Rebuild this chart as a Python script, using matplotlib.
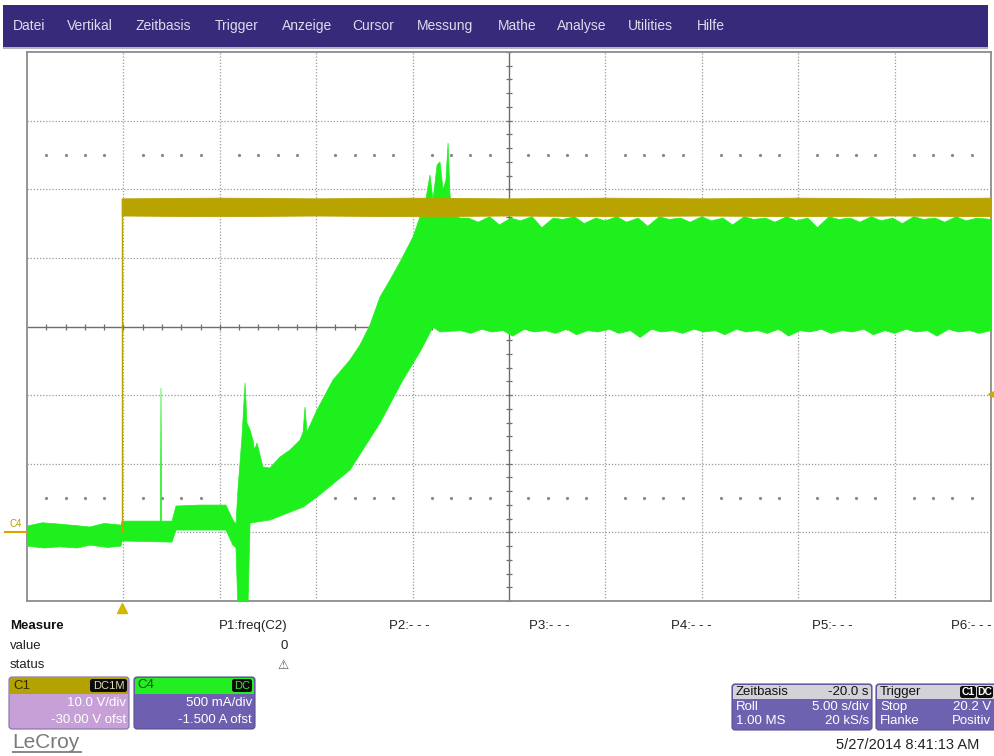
import matplotlib
matplotlib.use("Agg")
import matplotlib.pyplot as plt
from matplotlib.patches import Rectangle, FancyBboxPatch
from matplotlib.transforms import Affine2D, blended_transform_factory
import numpy as np

plt.rcParams['font.family'] = ['Liberation Sans', 'DejaVu Sans']

W, H = 994, 756

# ---------------- data ----------------
# C4 current envelope (A) vs time (s, 5 s/div, 10 div)
c4_hi_t = [0.00, 0.80, 1.71, 2.50, 3.27, 4.00, 4.88, 4.93, 6.79, 6.92, 6.95, 6.98,
           7.52, 7.73, 8.97, 10.32, 10.68, 10.84, 10.94, 11.15, 11.31, 11.41, 11.57,
           11.72, 11.80, 11.93, 12.24, 12.60, 13.12, 13.64, 14.16, 14.32, 14.42, 14.52,
           15.04, 15.87, 16.75, 17.27, 17.79, 18.31, 18.83, 19.35, 20.02, 20.38, 20.64,
           20.90, 21.06, 21.27, 21.42, 21.58, 21.73, 21.84, 21.94, 22.10, 22.46,
           22.9, 23.4, 24.0, 24.5, 25.1, 25.6, 26.2, 26.7, 27.3, 27.8, 28.4, 28.9,
           29.5, 30.0, 30.6, 31.1, 31.7, 32.2, 32.8, 33.3, 33.9, 34.4, 35.0, 35.5,
           36.1, 36.6, 37.2, 37.7, 38.3, 38.8, 39.4, 39.9, 40.5, 41.0, 41.6, 42.1,
           42.7, 43.2, 43.8, 44.3, 44.9, 45.4, 46.0, 46.5, 47.1, 47.6, 48.2, 48.7,
           49.3, 50.0]
c4_hi = [0.046, 0.070, 0.060, 0.050, 0.039, 0.065, 0.053, 0.082, 0.082, 0.082, 1.052, 0.082,
         0.082, 0.192, 0.199, 0.199, 0.090, 0.060, 0.308, 0.695, 1.089, 0.797, 0.746,
         0.673, 0.600, 0.651, 0.476, 0.469, 0.549, 0.600, 0.673, 0.730, 0.913, 0.731,
         0.891, 1.110, 1.256, 1.365, 1.511, 1.715, 1.839, 1.970, 2.152, 2.298, 2.386,
         2.604, 2.422, 2.677, 2.699, 2.495, 2.568, 2.837, 2.458, 2.313, 2.290,
         2.29, 2.26, 2.30, 2.24, 2.29, 2.27, 2.30, 2.22, 2.29, 2.28, 2.30, 2.25,
         2.29, 2.27, 2.30, 2.26, 2.29, 2.23, 2.30, 2.28, 2.29, 2.26, 2.30, 2.27,
         2.29, 2.24, 2.30, 2.28, 2.29, 2.26, 2.30, 2.27, 2.29, 2.22, 2.30, 2.28,
         2.29, 2.26, 2.30, 2.27, 2.29, 2.25, 2.30, 2.28, 2.29, 2.26, 2.30, 2.27,
         2.29, 2.28]
c4_lo_t = [0.00, 0.90, 1.71, 2.60, 3.27, 4.20, 4.88, 4.93, 7.52, 7.73, 10.32, 10.68,
           10.84, 10.94, 11.46, 11.57, 12.60, 14.32, 15.04, 16.75, 18.31, 19.50, 20.38,
           21.06, 21.42,
           22.5, 23.0, 23.6, 24.1, 24.7, 25.2, 25.8, 26.3, 26.9, 27.4, 28.0, 28.5,
           29.1, 29.6, 30.2, 30.7, 31.3, 31.8, 32.4, 32.9, 33.5, 34.0, 34.6, 35.1,
           35.7, 36.2, 36.8, 37.3, 37.9, 38.4, 39.0, 39.5, 40.1, 40.6, 41.2, 41.7,
           42.3, 42.8, 43.4, 43.9, 44.5, 45.0, 45.6, 46.1, 46.7, 47.2, 47.8, 48.3,
           48.9, 49.4, 50.0]
c4_lo = [-0.100, -0.114, -0.105, -0.114, -0.093, -0.110, -0.100, -0.063, -0.071, 0.017,
         0.017, -0.093, -0.114, -0.550, -0.550, 0.068, 0.090, 0.184, 0.257, 0.454, 0.797,
         1.110, 1.314, 1.496, 1.460,
         1.47, 1.45, 1.48, 1.46, 1.47, 1.43, 1.48, 1.46, 1.47, 1.45, 1.48, 1.44,
         1.47, 1.46, 1.48, 1.45, 1.47, 1.42, 1.48, 1.46, 1.47, 1.45, 1.48, 1.46,
         1.47, 1.44, 1.48, 1.46, 1.47, 1.45, 1.48, 1.43, 1.47, 1.46, 1.48, 1.45,
         1.47, 1.46, 1.48, 1.44, 1.47, 1.45, 1.48, 1.46, 1.47, 1.43, 1.48, 1.46,
         1.47, 1.45, 1.47]

# C1 voltage (V): 0 V until the trigger step, then a noisy band
c1_pre_t = [0.00, 4.93]
c1_pre_v = [0.0, 0.0]
c1_band_t = [4.93, 10.0, 15.0, 20.0, 25.0, 30.0, 35.0, 40.0, 45.0, 50.0]
c1_band_hi = [48.6, 48.7, 48.6, 48.7, 48.6, 48.7, 48.6, 48.7, 48.6, 48.7]
c1_band_lo = [46.1, 46.0, 46.1, 46.0, 46.1, 46.0, 46.1, 46.0, 46.1, 46.0]
trigger_t = 4.93
trigger_level_v = 20.2

menu_items = ["Datei", "Vertikal", "Zeitbasis", "Trigger", "Anzeige", "Cursor",
              "Messung", "Mathe", "Analyse", "Utilities", "Hilfe"]
p_labels = ["P1:freq(C2)", "P2:- - -", "P3:- - -", "P4:- - -", "P5:- - -", "P6:- - -"]

# ---------------- figure ----------------
fig = plt.figure(figsize=(W / 100, H / 100), dpi=100)
fig.patch.set_facecolor('white')
P = Affine2D().scale(1 / W, -1 / H).translate(0, 1) + fig.transFigure


def box(x0, y0, x1, y1, fc, ec='none', lw=0, r=0, z=1):
    if r:
        p = FancyBboxPatch((x0, y0), x1 - x0, y1 - y0,
                           boxstyle=f"round,pad=0,rounding_size={r}",
                           fc=fc, ec=ec, lw=lw, transform=P, zorder=z)
    else:
        p = Rectangle((x0, y0), x1 - x0, y1 - y0, fc=fc, ec=ec, lw=lw,
                      transform=P, zorder=z)
    fig.add_artist(p)


def txt(x, y, s, **kw):
    kw.setdefault('fontsize', 9.5)
    kw.setdefault('va', 'center')
    fig.text(x, y, s, transform=P, **kw)


# menu bar
box(3, 5, 988, 47, '#372a7a')
box(3, 47, 988, 49, '#b4b4bc')
menu_x = [13, 67, 135, 215, 282, 352, 417, 498, 557, 628, 697]
for s, x in zip(menu_items, menu_x):
    txt(x, 26, s, color='#dcdcec', fontsize=10)

# ---------------- scope axes ----------------
ax = fig.add_axes([27 / W, 1 - 601 / H, 964 / W, 549 / H])
ax.set_xlim(0, 50)
ax.set_ylim(-0.5, 3.5)           # C4: 500 mA/div, -1.5 A offset
ax2 = ax.twinx()
ax2.set_ylim(-10, 70)            # C1: 10 V/div, -30 V offset
for a in (ax, ax2):
    a.set_xticks([])
    a.set_yticks([])
for sp in ax.spines.values():
    sp.set_color('#8c8c8c')
    sp.set_linewidth(1.3)
for sp in ax2.spines.values():
    sp.set_visible(False)

gc = '#9a9a9a'
for i in range(1, 10):
    if i != 5:
        ax.axvline(i * 5, color=gc, ls=(0, (1, 1.5)), lw=0.9, zorder=0)
for j in range(-3, 4):
    if j != 0:
        ax.axhline(1.5 + 0.5 * j, color=gc, ls=(0, (1, 1.5)), lw=0.9, zorder=0)
ax.axvline(25, color='#6e6e6e', lw=1.0, zorder=0)
ax.axhline(1.5, color='#6e6e6e', lw=1.0, zorder=0)
tx = np.arange(1, 50)
ax.plot(tx, np.full(tx.size, 1.5), ls='none', marker='|', ms=5, mew=0.9,
        color='#6e6e6e', zorder=0)
ty = np.arange(-0.5, 3.51, 0.1)
ax.plot(np.full(ty.size, 25), ty, ls='none', marker='_', ms=5, mew=0.9,
        color='#6e6e6e', zorder=0)
dx = np.array([k for k in range(1, 50) if k % 5 != 0])
for yy in (2.75, 0.25):
    ax.plot(dx, np.full(dx.size, yy), ls='none', marker='o', ms=1.3,
            color='#8a8a8a', zorder=0)

green = '#1ef01e'
yellow = '#b8a300'

# C1 before the trigger (under C4)
ax.plot(c1_pre_t, c1_pre_v, color=yellow, lw=1.0, transform=ax2.transData, zorder=1)
# C4 envelope
xs = list(c4_hi_t) + list(c4_lo_t[::-1])
ys = list(c4_hi) + list(c4_lo[::-1])
ax.fill(xs, ys, color=green, lw=0.5, ec=green, zorder=3)
# C1 step and band
ax2.plot([trigger_t, trigger_t], [c1_pre_v[-1], c1_band_lo[0]], color=yellow, lw=1.0, zorder=4)
bx = list(c1_band_t) + list(c1_band_t[::-1])
by = list(c1_band_hi) + list(c1_band_lo[::-1])
ax2.fill(bx, by, color=yellow, lw=0.6, ec=yellow, zorder=5)

# trigger position marker & level marker
ax.plot([trigger_t], [-0.012], transform=ax.get_xaxis_transform(), marker='^',
        ms=7, color='#d4b800', clip_on=False, zorder=6)
bt = blended_transform_factory(ax.transAxes, ax2.transData)
ax2.plot([1.0], [trigger_level_v], transform=bt, marker='<', ms=4,
         color='#d4a800', clip_on=False, zorder=6)
# C4 ground marker
bt4 = blended_transform_factory(ax.transAxes, ax.transData)
ax.plot([-22 / 964, -1 / 964], [0.0, 0.0], transform=bt4, color='#d9a300', lw=1.5,
        clip_on=False, zorder=6)
ax.text(-17 / 964, 0.025, "C4", transform=bt4, color='#b0a000', fontsize=7,
        va='bottom', ha='left', clip_on=False)

# ---------------- measurement area ----------------
txt(10, 626, "Measure", fontweight='bold', color='#111111')
txt(10, 646, "value", color='#222222')
txt(10, 665, "status", color='#222222')
p_x = [288, 430, 570, 712, 853, 992]
for s, x in zip(p_labels, p_x):
    txt(x, 626, s, ha='right', color='#222222')
txt(288, 646, "0", ha='right', color='#222222')
txt(289, 665, "\u26a0", ha='right', color='#555555', fontsize=9,
    family=['DejaVu Sans'])

# C1 box
box(9, 677, 129, 729, '#c8a0d8', ec='#8070a0', lw=0.8, r=3, z=2)
box(10, 678, 128, 694, '#b3a200', r=2.5, z=3)
box(10, 686, 128, 694, '#b3a200', z=3)
box(90, 679, 127, 692, '#0a0a0a', r=2.5, z=4)
txt(108.5, 686, "DC1M", ha='center', color='#e0dcb0', fontsize=8, zorder=5)
txt(13, 686, "C1", color='#302a00', zorder=5)
txt(126, 703, "10.0 V/div", ha='right', color='white', zorder=5)
txt(126, 720, "-30.00 V ofst", ha='right', color='white', zorder=5)

# C4 box
box(134, 677, 255, 729, '#6e5fb0', ec='#5a5090', lw=0.8, r=3, z=2)
box(135, 678, 254, 694, '#22ee22', r=2.5, z=3)
box(135, 686, 254, 694, '#22ee22', z=3)
box(232, 679, 252, 692, '#0a0a0a', r=2.5, z=4)
txt(242, 686, "DC", ha='center', color='#40e040', fontsize=8, zorder=5)
txt(137, 685, "C4", color='#1a4a1a', zorder=5)
txt(252, 703, "500 mA/div", ha='right', color='white', zorder=5)
txt(252, 720, "-1.500 A ofst", ha='right', color='white', zorder=5)

# LeCroy logo
txt(12, 743, "LeCroy", color='#7a7a7a', fontsize=15)
box(12, 751, 82, 752.5, '#8a8a8a')

# Zeitbasis box
box(732, 684, 872, 730, '#6d62b0', ec='#5a5090', lw=0.8, r=3, z=2)
box(733, 685, 871, 699, '#d2d2d8', r=2.5, z=3)
box(733, 692, 871, 699, '#d2d2d8', z=3)
txt(736, 692, "Zeitbasis", color='#111111', zorder=5)
txt(869, 692, "-20.0 s", ha='right', color='#111111', zorder=5)
txt(736, 707, "Roll", color='white', zorder=5)
txt(869, 707, "5.00 s/div", ha='right', color='white', zorder=5)
txt(736, 721, "1.00 MS", color='white', zorder=5)
txt(869, 721, "20 kS/s", ha='right', color='white', zorder=5)

# Trigger box
box(876, 684, 1000, 730, '#6d62b0', ec='#5a5090', lw=0.8, r=3, z=2)
box(877, 685, 999, 699, '#d2d2d8', r=2.5, z=3)
box(877, 692, 999, 699, '#d2d2d8', z=3)
txt(880, 692, "Trigger", color='#111111', zorder=5)
box(960, 686, 976, 698, '#0a0a0a', r=2.5, z=4)
box(977, 686, 993, 698, '#0a0a0a', r=2.5, z=4)
txt(968, 692, "C1", ha='center', color='white', fontsize=7.5, fontweight='bold', zorder=5)
txt(985, 692, "DC", ha='center', color='white', fontsize=7.5, fontweight='bold', zorder=5)
txt(880, 707, "Stop", color='white', zorder=5)
txt(991, 707, "20.2 V", ha='right', color='white', zorder=5)
txt(880, 721, "Flanke", color='white', zorder=5)
txt(991, 721, "Positiv", ha='right', color='white', zorder=5)

txt(908, 745, "5/27/2014 8:41:13 AM", ha='center', color='#222222', fontsize=10.5)

fig.savefig("out.png", dpi=100, facecolor='white')
